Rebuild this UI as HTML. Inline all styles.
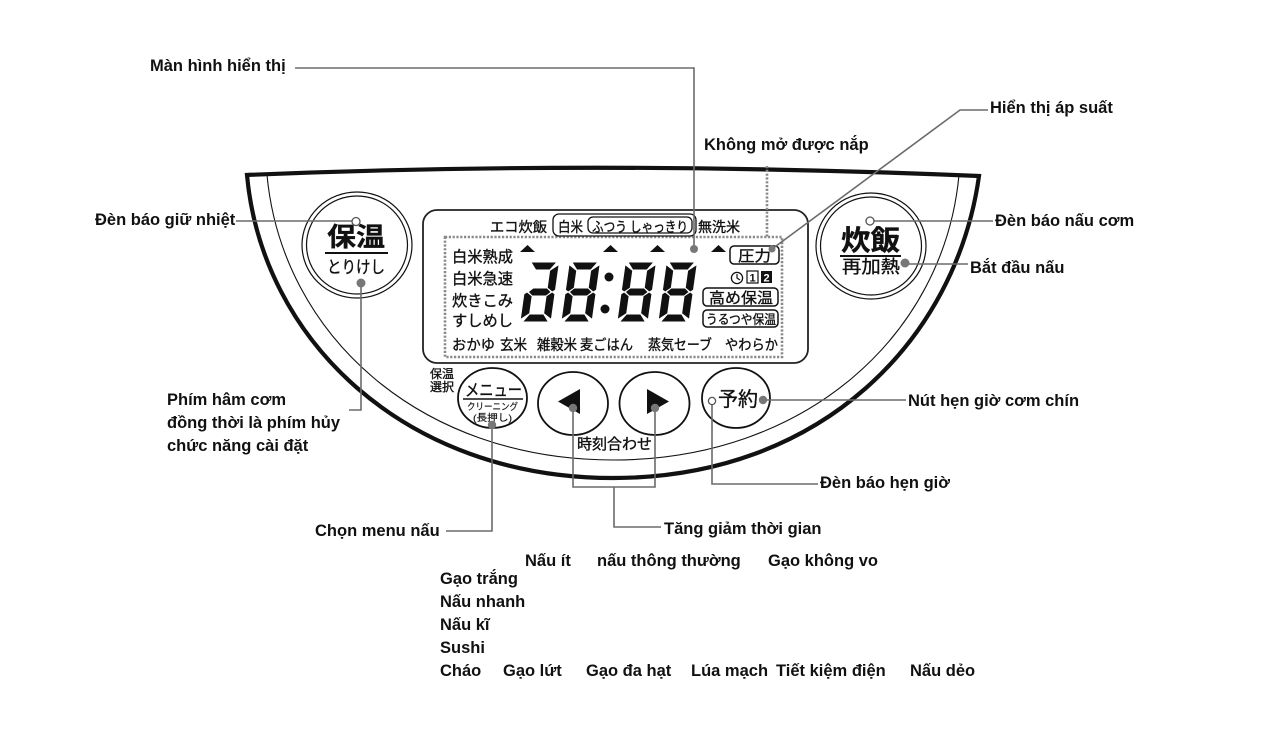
<!DOCTYPE html>
<html>
<head>
<meta charset="utf-8">
<style>
html,body{margin:0;padding:0;background:#fff;}
svg{display:block;}
.l{font-family:"Liberation Sans",sans-serif;font-weight:bold;font-size:16.5px;fill:#111;}
.j{font-family:"Liberation Sans","Noto Sans CJK JP",sans-serif;fill:#111;stroke:#111;stroke-width:0.35px;}
.c{fill:none;stroke:#6b6b6b;stroke-width:1.6;}
</style>
</head>
<body>
<svg width="1276" height="745" viewBox="0 0 1276 745" xmlns="http://www.w3.org/2000/svg">
<rect width="1276" height="745" fill="#fff"/>

<!-- bowl outline -->
<path d="M 247 175 Q 600 160 979 176 C 956 340 821 478 613 478 C 405 478 262 340 247 175 Z" fill="none" stroke="#111" stroke-width="4.2" stroke-linejoin="miter"/>
<path d="M 267 175 C 282 335 420 460 613 460 C 806 460 944 335 959 175" fill="none" stroke="#111" stroke-width="1.1"/>

<!-- left big button -->
<ellipse cx="357" cy="245" rx="55" ry="53" fill="#fff" stroke="#111" stroke-width="1.2"/>
<ellipse cx="357" cy="245" rx="50.5" ry="49" fill="none" stroke="#111" stroke-width="1.2"/>
<text class="j" x="327" y="246" font-size="26" font-weight="bold" textLength="58" lengthAdjust="spacingAndGlyphs">保温</text>
<line x1="325" y1="253" x2="388" y2="253" stroke="#111" stroke-width="2"/>
<text class="j" x="327" y="273" font-size="17" textLength="58" lengthAdjust="spacingAndGlyphs">とりけし</text>

<!-- right big button -->
<ellipse cx="871" cy="246" rx="55" ry="53" fill="#fff" stroke="#111" stroke-width="1.2"/>
<ellipse cx="871" cy="246" rx="50.5" ry="49" fill="none" stroke="#111" stroke-width="1.2"/>
<text class="j" x="841" y="250" font-size="28" font-weight="bold" textLength="59" lengthAdjust="spacingAndGlyphs">炊飯</text>
<line x1="840" y1="256" x2="901" y2="256" stroke="#111" stroke-width="2"/>
<text class="j" x="842" y="273" font-size="18" textLength="58" lengthAdjust="spacingAndGlyphs">再加熱</text>

<!-- display -->
<rect x="423" y="210" width="385" height="153" rx="14" fill="#fff" stroke="#222" stroke-width="1.8"/>
<rect x="445" y="237" width="337" height="120" fill="none" stroke="#8a8a8a" stroke-width="2.6" stroke-dasharray="2.2 1.6"/>

<text class="j" x="490" y="232" font-size="14" textLength="57" lengthAdjust="spacingAndGlyphs">エコ炊飯</text>
<rect x="553" y="214" width="143" height="22" rx="6" fill="none" stroke="#111" stroke-width="1.3"/>
<rect x="588" y="217" width="104" height="16" rx="5" fill="none" stroke="#111" stroke-width="1.3"/>
<text class="j" x="558" y="232" font-size="14" textLength="25" lengthAdjust="spacingAndGlyphs">白米</text>
<text class="j" x="592" y="232" font-size="14" textLength="96" lengthAdjust="spacingAndGlyphs">ふつう しゃっきり</text>
<text class="j" x="698" y="232" font-size="14" textLength="42" lengthAdjust="spacingAndGlyphs">無洗米</text>

<text class="j" x="452" y="262" font-size="15.5" textLength="61" lengthAdjust="spacingAndGlyphs">白米熟成</text>
<text class="j" x="452" y="284" font-size="15.5" textLength="61" lengthAdjust="spacingAndGlyphs">白米急速</text>
<text class="j" x="452" y="306" font-size="15.5" textLength="61" lengthAdjust="spacingAndGlyphs">炊きこみ</text>
<text class="j" x="452" y="326" font-size="15.5" textLength="61" lengthAdjust="spacingAndGlyphs">すしめし</text>

<text class="j" x="452" y="350" font-size="14.5" textLength="43" lengthAdjust="spacingAndGlyphs">おかゆ</text>
<text class="j" x="500" y="350" font-size="14.5" textLength="27" lengthAdjust="spacingAndGlyphs">玄米</text>
<text class="j" x="537" y="350" font-size="14.5" textLength="40" lengthAdjust="spacingAndGlyphs">雑穀米</text>
<text class="j" x="580" y="350" font-size="14.5" textLength="53" lengthAdjust="spacingAndGlyphs">麦ごはん</text>
<text class="j" x="648" y="350" font-size="14.5" textLength="64" lengthAdjust="spacingAndGlyphs">蒸気セーブ</text>
<text class="j" x="725" y="350" font-size="14.5" textLength="53" lengthAdjust="spacingAndGlyphs">やわらか</text>

<!-- triangles -->
<polygon points="520,252 527.5,245 535,252" fill="#111"/>
<polygon points="603,252 610.5,245 618,252" fill="#111"/>
<polygon points="650,252 657.5,245 665,252" fill="#111"/>
<polygon points="711,252 718.5,245 726,252" fill="#111"/>

<!-- seven segment digits -->
<g fill="#111" stroke="#fff" stroke-width="0.9" stroke-linejoin="round">
 <g transform="translate(528.4,262) skewX(-8)">
  <polygon points="2.5,0 28.5,0 22.5,8 8.5,8"/>
  <polygon points="31,2.5 31,28 28,30 22.5,26 22.5,8.5"/>
  <polygon points="28,30 31,32 31,57.5 22.5,51.5 22.5,34"/>
  <polygon points="8.5,52 22.5,52 28.5,60 2.5,60"/>
  <polygon points="3,30 8.5,34 8.5,51.5 0,57.5 0,32"/>
  <polygon points="4,30 8.5,26 22.5,26 27,30 22.5,34 8.5,34"/>
 </g>
 <g transform="translate(569.4,262) skewX(-8)">
  <polygon points="2.5,0 28.5,0 22.5,8 8.5,8"/>
  <polygon points="31,2.5 31,28 28,30 22.5,26 22.5,8.5"/>
  <polygon points="28,30 31,32 31,57.5 22.5,51.5 22.5,34"/>
  <polygon points="8.5,52 22.5,52 28.5,60 2.5,60"/>
  <polygon points="3,30 8.5,34 8.5,51.5 0,57.5 0,32"/>
  <polygon points="0,2.5 8.5,8.5 8.5,26 3,30 0,28"/>
  <polygon points="4,30 8.5,26 22.5,26 27,30 22.5,34 8.5,34"/>
 </g>
 <g transform="translate(625.4,262) skewX(-8)">
  <polygon points="2.5,0 28.5,0 22.5,8 8.5,8"/>
  <polygon points="31,2.5 31,28 28,30 22.5,26 22.5,8.5"/>
  <polygon points="28,30 31,32 31,57.5 22.5,51.5 22.5,34"/>
  <polygon points="8.5,52 22.5,52 28.5,60 2.5,60"/>
  <polygon points="3,30 8.5,34 8.5,51.5 0,57.5 0,32"/>
  <polygon points="0,2.5 8.5,8.5 8.5,26 3,30 0,28"/>
  <polygon points="4,30 8.5,26 22.5,26 27,30 22.5,34 8.5,34"/>
 </g>
 <g transform="translate(666.4,262) skewX(-8)">
  <polygon points="2.5,0 28.5,0 22.5,8 8.5,8"/>
  <polygon points="31,2.5 31,28 28,30 22.5,26 22.5,8.5"/>
  <polygon points="28,30 31,32 31,57.5 22.5,51.5 22.5,34"/>
  <polygon points="8.5,52 22.5,52 28.5,60 2.5,60"/>
  <polygon points="3,30 8.5,34 8.5,51.5 0,57.5 0,32"/>
  <polygon points="0,2.5 8.5,8.5 8.5,26 3,30 0,28"/>
  <polygon points="4,30 8.5,26 22.5,26 27,30 22.5,34 8.5,34"/>
 </g>
</g>
<circle cx="609" cy="277" r="4.5" fill="#111"/>
<circle cx="605" cy="309" r="4.5" fill="#111"/>

<!-- right column of display -->
<rect x="730" y="246" width="49" height="18" rx="4" fill="#fff" stroke="#111" stroke-width="1.5"/>
<text class="j" x="738" y="261" font-size="15" textLength="33" lengthAdjust="spacingAndGlyphs">圧力</text>
<circle cx="737" cy="278" r="5.6" fill="none" stroke="#111" stroke-width="1.3"/>
<polyline points="737,274 737,278 740,280" fill="none" stroke="#111" stroke-width="1.2"/>
<rect x="747" y="271" width="11" height="12" fill="#fff" stroke="#111" stroke-width="1.2"/>
<text x="749.5" y="281.5" font-family="Liberation Sans, sans-serif" font-size="11" font-weight="bold" fill="#111">1</text>
<rect x="761" y="271" width="11" height="12" fill="#111"/>
<text x="763.5" y="281.5" font-family="Liberation Sans, sans-serif" font-size="11" font-weight="bold" fill="#fff">2</text>
<rect x="703" y="288" width="75" height="18" rx="4" fill="#fff" stroke="#111" stroke-width="1.5"/>
<text class="j" x="709" y="303" font-size="15" textLength="64" lengthAdjust="spacingAndGlyphs">高め保温</text>
<rect x="703" y="310" width="75" height="17" rx="4" fill="#fff" stroke="#111" stroke-width="1.5"/>
<text class="j" x="706" y="324" font-size="13" textLength="70" lengthAdjust="spacingAndGlyphs">うるつや保温</text>

<!-- bottom buttons -->
<text class="j" x="430" y="378" font-size="12" textLength="24" lengthAdjust="spacingAndGlyphs">保温</text>
<text class="j" x="430" y="391" font-size="12" textLength="24" lengthAdjust="spacingAndGlyphs">選択</text>
<ellipse cx="492.5" cy="398" rx="34.5" ry="30" fill="#fff" stroke="#111" stroke-width="1.8"/>
<text class="j" x="465" y="396" font-size="17" textLength="57" lengthAdjust="spacingAndGlyphs">メニュー</text>
<line x1="463" y1="399" x2="523" y2="399" stroke="#111" stroke-width="1.4"/>
<text class="j" x="467" y="410" font-size="9.5" textLength="51" lengthAdjust="spacingAndGlyphs" style="stroke-width:0.15px">クリーニング</text>
<text class="j" x="473" y="421" font-size="9.5" textLength="39" lengthAdjust="spacingAndGlyphs" style="stroke-width:0.15px">(長押し)</text>

<ellipse cx="573" cy="403.5" rx="35" ry="31.5" fill="#fff" stroke="#111" stroke-width="1.8"/>
<polygon points="558,401.5 580,389 580,414" fill="#111"/>
<ellipse cx="654.5" cy="403.5" rx="35" ry="31.5" fill="#fff" stroke="#111" stroke-width="1.8"/>
<polygon points="669,401.5 647,389 647,414" fill="#111"/>
<ellipse cx="736" cy="398" rx="34" ry="30" fill="#fff" stroke="#111" stroke-width="1.8"/>
<text class="j" x="718" y="406" font-size="20" textLength="40" lengthAdjust="spacingAndGlyphs">予約</text>
<text class="j" x="577" y="449" font-size="15" textLength="75" lengthAdjust="spacingAndGlyphs">時刻合わせ</text>

<!-- connectors -->
<polyline class="c" points="295,68 694,68 694,246"/>
<polyline class="c" points="988,110 960,110 772,249"/>
<line x1="767" y1="166" x2="767" y2="237" stroke="#8a8a8a" stroke-width="2.6" stroke-dasharray="2.2 1.6"/>
<line class="c" x1="236" y1="221" x2="352" y2="221"/>
<polyline class="c" points="361,283 361,410 349,410"/>
<line class="c" x1="874" y1="221" x2="993" y2="221"/>
<line class="c" x1="905" y1="264" x2="968" y2="264"/>
<line class="c" x1="763" y1="400" x2="906" y2="400"/>
<polyline class="c" points="712,404 712,484 818,484"/>
<polyline class="c" points="492,425 492,531 446,531"/>
<polyline class="c" points="573,408 573,487 655,487 655,408"/>
<polyline class="c" points="614,487 614,527 661,527"/>

<!-- indicator dots -->
<circle cx="694" cy="249" r="4" fill="#777"/>
<circle cx="772" cy="249" r="3.5" fill="#777"/>
<circle cx="356" cy="221.5" r="4" fill="#fff" stroke="#555" stroke-width="1.3"/>
<circle cx="870" cy="221" r="4" fill="#fff" stroke="#555" stroke-width="1.3"/>
<circle cx="361" cy="283" r="4.5" fill="#777"/>
<circle cx="905" cy="263" r="4.5" fill="#777"/>
<circle cx="492" cy="425" r="4.2" fill="#777"/>
<circle cx="573" cy="408" r="4.2" fill="#777"/>
<circle cx="655" cy="408" r="4.2" fill="#777"/>
<circle cx="712" cy="401" r="3.6" fill="#fff" stroke="#555" stroke-width="1.3"/>
<circle cx="763" cy="400" r="4.2" fill="#777"/>

<!-- labels -->
<text class="l" x="150" y="71">Màn hình hiển thị</text>
<text class="l" x="990" y="113">Hiển thị áp suất</text>
<text class="l" x="704" y="150">Không mở được nắp</text>
<text class="l" x="95" y="225">Đèn báo giữ nhiệt</text>
<text class="l" x="995" y="226">Đèn báo nấu cơm</text>
<text class="l" x="970" y="273">Bắt đầu nấu</text>
<text class="l" x="167" y="405">Phím hâm cơm</text>
<text class="l" x="167" y="428">đồng thời là phím hủy</text>
<text class="l" x="167" y="451">chức năng cài đặt</text>
<text class="l" x="908" y="406">Nút hẹn giờ cơm chín</text>
<text class="l" x="820" y="488">Đèn báo hẹn giờ</text>
<text class="l" x="315" y="536">Chọn menu nấu</text>
<text class="l" x="664" y="534">Tăng giảm thời gian</text>

<text class="l" x="525" y="566">Nấu ít</text>
<text class="l" x="597" y="566">nấu thông thường</text>
<text class="l" x="768" y="566">Gạo không vo</text>
<text class="l" x="440" y="584">Gạo trắng</text>
<text class="l" x="440" y="607">Nấu nhanh</text>
<text class="l" x="440" y="630">Nấu kĩ</text>
<text class="l" x="440" y="653">Sushi</text>
<text class="l" x="440" y="676">Cháo</text>
<text class="l" x="503" y="676">Gạo lứt</text>
<text class="l" x="586" y="676">Gạo đa hạt</text>
<text class="l" x="691" y="676">Lúa mạch</text>
<text class="l" x="776" y="676">Tiết kiệm điện</text>
<text class="l" x="910" y="676">Nấu dẻo</text>
</svg>
</body>
</html>
